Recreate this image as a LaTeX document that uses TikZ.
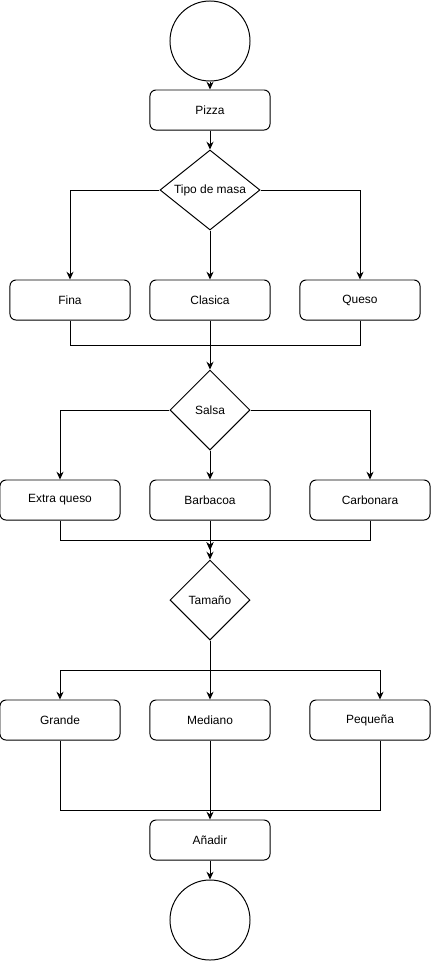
\documentclass[tikz,border=0pt]{standalone}
\usepackage{fontspec}
\setmainfont{Liberation Sans}
\usetikzlibrary{
    arrows.meta,
    shapes.geometric,
    positioning
}

\begin{document}
\begin{tikzpicture}[x=0.025cm, y=-0.025cm, line width=0.7pt,
        >={Stealth[length=5.5pt, width=5pt]},
        font=\fontsize{8.5}{10}\selectfont,
        caja/.style={draw, rectangle, rounded corners=0.15cm, minimum width=3cm, minimum height=1cm, inner sep=0pt},
        decision/.style={draw, diamond, aspect=1.25, inner sep=0pt, minimum width=2cm, minimum height=2cm},
        terminal/.style={draw, circle, minimum size=2cm, inner sep=0pt}]
    \useasboundingbox (0, 0) rectangle (431, 961);

    \node[terminal] (inicio) at (210, 41) {};
    \node[caja] (pizza) at (210, 110) {Pizza};
    \node[decision, minimum width=2.5cm] (masa) at (210, 190) {Tipo de masa};

    \node[caja] (fina) at (70, 300) {Fina};
    \node[caja] (clasica) at (210, 300) {Clasica};
    \node[caja] (queso) at (360, 300) {Queso};

    \node[decision] (salsa) at (210, 410) {Salsa};

    \node[caja] (extra) at (60, 500) {Extra queso};
    \node[caja] (barbacoa) at (210, 500) {Barbacoa};
    \node[caja] (carbonara) at (370, 500) {Carbonara};

    \node[decision] (tamano) at (210, 600) {Tamaño};

    \node[caja] (grande) at (60, 720) {Grande};
    \node[caja] (mediano) at (210, 720) {Mediano};
    \node[caja] (pequena) at (370, 720) {Pequeña};

    \node[caja] (anadir) at (210, 840) {Añadir};
    \node[terminal] (fin) at (210, 920) {};

    % puntos de union
    \coordinate (union1) at (210, 345);
    \coordinate (union2) at (210, 540);
    \coordinate (punta2) at (210, 550);
    \coordinate (reparto) at (210, 670);
    \coordinate (union3) at (210, 810);

    \draw[->] (inicio) -- (pizza);
    \draw[->] (pizza) -- (masa);
    \draw[->] (masa.west) -| (fina);
    \draw[->] (masa) -- (clasica);
    \draw[->] (masa.east) -| (queso);

    \draw (fina) |- (union1);
    \draw (queso) |- (union1);
    \draw[->] (clasica) -- (salsa);

    \draw[->] (salsa.west) -| (extra);
    \draw[->] (salsa) -- (barbacoa);
    \draw[->] (salsa.east) -| (carbonara);

    \draw[->] (extra) |- (union2) -- (punta2);
    \draw[->] (carbonara) |- (union2) -- (punta2);
    \draw[->] (barbacoa) -- (tamano);

    \draw (tamano) -- (reparto);
    \draw[->] (reparto) -| (grande);
    \draw[->] (tamano) -- (mediano);
    \draw[->] (reparto) -| ([xshift=0.25cm]pequena.north);

    \draw (grande) |- (union3);
    \draw ([xshift=0.25cm]pequena.south) |- (union3);
    \draw[->] (mediano) -- (anadir);
    \draw[->] (anadir) -- (fin);
\end{tikzpicture}
\end{document}
